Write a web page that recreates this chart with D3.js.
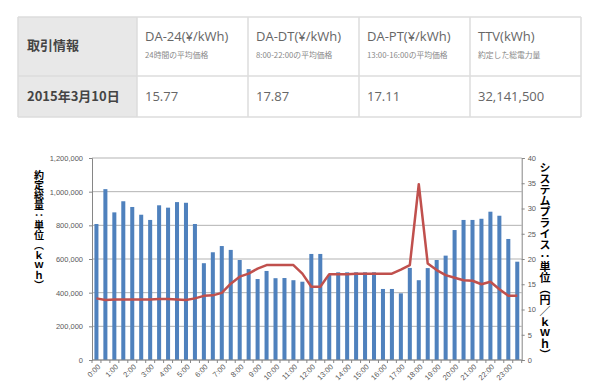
<!DOCTYPE html>
<html><head><meta charset="utf-8">
<script src="https://cdn.jsdelivr.net/npm/d3@7"></script>
<style>body{margin:0;background:#fff}svg{display:block}
.vt{writing-mode:vertical-rl;text-orientation:upright;}
</style>
</head><body>
<svg id="c" width="600" height="391"></svg>
<script>
// ---- data ----
const tableHeaders = ["取引情報","DA-24(¥/kWh)","DA-DT(¥/kWh)","DA-PT(¥/kWh)","TTV(kWh)"];
const tableSubs = ["","24時間の平均価格","8:00-22:00の平均価格","13:00-16:00の平均価格","約定した総電力量"];
const tableRow = ["2015年3月10日","15.77","17.87","17.11","32,141,500"];

const slots = d3.range(48).map(i => `${Math.floor(i/2)}:${i%2 ? "30" : "00"}`);
const tickLabels = slots.filter((s,i) => i%2===0);
const volume = [808000,1015000,877000,943000,909000,863000,832000,919000,905000,938000,934000,808000,
  575000,640000,677000,654000,594000,540000,481000,529000,486000,487000,474000,465000,
  630000,630000,505000,521000,521000,521000,521000,521000,422000,422000,396000,547000,
  474000,546000,594000,620000,772000,832000,832000,839000,881000,857000,719000,584000];
const price = [12.2,11.9,12.0,12.0,12.0,12.0,12.0,12.1,12.1,12.0,11.9,12.2,
  12.7,12.8,13.3,15.1,16.5,17.1,18.1,18.8,18.8,18.8,18.8,17.1,
  14.5,14.5,17.0,17.0,17.0,17.1,17.1,17.1,17.1,17.1,17.9,18.8,
  34.8,19.1,17.8,16.8,16.3,15.8,15.7,15.0,15.5,14.0,12.7,12.7];
const leftTitle = "約定総量：単位（ｋｗｈ）";
const rightTitle = "システムプライス：単位（円／ｋｗｈ）";

const svg = d3.select("#c");

// ---- table ----
const colX = [18,137,248,359,470,581];
const rowY = [17,76,117];
const tg = svg.append("g");
tg.append("rect").attr("x",colX[0]).attr("y",rowY[0]).attr("width",colX[1]-colX[0]).attr("height",rowY[2]-rowY[0]).attr("fill","#e8e8e8");
const lineC = "#dddddd";
colX.forEach(x => tg.append("line").attr("x1",x).attr("x2",x).attr("y1",rowY[0]).attr("y2",rowY[2]).attr("stroke",lineC).attr("stroke-width",1.5));
rowY.forEach(y => tg.append("line").attr("x1",colX[0]).attr("x2",colX[5]).attr("y1",y).attr("y2",y).attr("stroke",lineC).attr("stroke-width",1.5));
const tf = "'Open Sans','Noto Sans CJK JP',sans-serif";
tableHeaders.forEach((h,i) => {
  if (i===0) {
    tg.append("text").attr("x",colX[0]+9).attr("y",50).text(h).attr("font-family","'Noto Sans CJK JP',sans-serif").attr("font-weight","bold").attr("font-size",13).attr("fill","#444");
  } else {
    tg.append("text").attr("x",colX[i]+8).attr("y",41).text(h).attr("font-family",tf).attr("font-size",13).attr("fill","#666");
    tg.append("text").attr("x",colX[i]+8).attr("y",57.5).text(tableSubs[i]).attr("font-family","'Noto Sans CJK JP',sans-serif").attr("font-size",7.8).attr("fill","#888");
  }
});
tableRow.forEach((v,i) => {
  tg.append("text").attr("x",colX[i]+(i===0?9:8)).attr("y",101).text(v)
    .attr("font-family", i===0 ? "'Noto Sans CJK JP',sans-serif" : tf)
    .attr("font-weight", i===0 ? "bold" : "normal")
    .attr("font-size",13).attr("fill", i===0 ? "#444" : "#666");
});

// ---- chart ----
const L = 92, R = 521.7, T = 158, B = 360;
const x = d3.scaleBand().domain(slots).range([L,R]).paddingInner(0.55).paddingOuter(0.27);
const yL = d3.scaleLinear().domain([0,1200000]).range([B,T]);
const yR = d3.scaleLinear().domain([0,40]).range([B,T]);

// gridlines
svg.append("g").selectAll("line").data(yL.ticks(6)).join("line")
  .attr("x1",L).attr("x2",R).attr("y1",d=>yL(d)).attr("y2",d=>yL(d))
  .attr("stroke","#b3b3b3").attr("stroke-width",1);

// bars
svg.append("g").selectAll("rect").data(volume).join("rect")
  .attr("x",(d,i)=>x(slots[i])).attr("width",x.bandwidth())
  .attr("y",d=>yL(d)).attr("height",d=>B-yL(d)).attr("fill","#4f81bd");

// line
svg.append("path").datum(price)
  .attr("d", d3.line().x((d,i)=>x(slots[i])+x.bandwidth()/2).y(d=>yR(d)))
  .attr("fill","none").attr("stroke","#c0504d").attr("stroke-width",2.5).attr("stroke-linejoin","round");

const axF = "'Liberation Sans',Arial,sans-serif";
const axC = "#595959";
// left axis
const gl = svg.append("g").attr("transform",`translate(${L},0)`)
  .call(d3.axisLeft(yL).ticks(6).tickFormat(d3.format(",")).tickSize(3).tickPadding(6));
gl.select(".domain").attr("stroke","#868686");
gl.selectAll(".tick line").attr("stroke","#868686");
gl.selectAll("text").attr("font-family",axF).attr("font-size",7.5).attr("fill",axC);

// right axis
const gr = svg.append("g").attr("transform",`translate(${R},0)`)
  .call(d3.axisRight(yR).ticks(8).tickSize(3).tickPadding(3));
gr.select(".domain").attr("stroke","#868686");
gr.selectAll(".tick line").attr("stroke","#868686");
gr.selectAll("text").attr("font-family",axF).attr("font-size",7.5).attr("fill",axC);

// bottom axis
svg.append("line").attr("x1",L).attr("x2",R).attr("y1",B).attr("y2",B).attr("stroke","#868686");
svg.append("g").selectAll("line").data(d3.range(49)).join("line")
  .attr("x1",i=>L+(R-L)*i/48).attr("x2",i=>L+(R-L)*i/48).attr("y1",B).attr("y2",B+3).attr("stroke","#868686");
svg.append("g").selectAll("text").data(tickLabels).join("text")
  .attr("transform",d=>`translate(${x(d)+x.bandwidth()/2+3},${B+6}) rotate(-45)`)
  .attr("text-anchor","end").attr("dominant-baseline","middle")
  .attr("font-family",axF).attr("font-size",7.5).attr("fill",axC).text(d=>d);

// titles (vertical)
const titleF = "'Noto Sans CJK JP',sans-serif";
svg.append("text").attr("class","vt").attr("x",39).attr("y",170)
  .attr("font-family",titleF).attr("font-weight","bold").attr("font-size",10).attr("fill","#000").text(leftTitle);
svg.append("text").attr("class","vt").attr("x",545).attr("y",162)
  .attr("font-family",titleF).attr("font-weight","bold").attr("font-size",11).attr("fill","#000").text(rightTitle);
</script>
</body></html>
